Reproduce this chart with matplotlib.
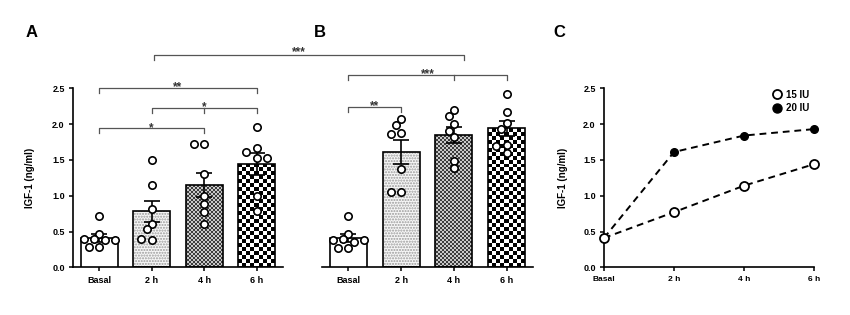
import numpy as np
import matplotlib
matplotlib.use('Agg')
import matplotlib.pyplot as plt
from matplotlib.lines import Line2D

plt.rcParams['font.family'] = ['Liberation Sans', 'DejaVu Sans']
plt.rcParams['font.weight'] = 'bold'

groups = ['Basal', '2 h', '4 h', '6 h']

# panel A (15 IU) - individual values, bar means and SEM
a_points = [
    [0.71, 0.46, 0.39, 0.38, 0.40, 0.28, 0.29, 0.38],
    [1.50, 1.15, 0.82, 0.61, 0.54, 0.38, 0.39],
    [1.72, 1.72, 1.30, 1.00, 0.88, 0.77, 0.60],
    [1.96, 1.66, 1.61, 1.52, 1.52, 1.00, 0.79],
]
a_mean = [0.41, 0.78, 1.15, 1.44]
a_sem = [0.05, 0.15, 0.17, 0.15]

# panel B (20 IU)
b_points = [
    [0.71, 0.47, 0.39, 0.36, 0.38, 0.38, 0.27, 0.27],
    [2.07, 1.99, 1.87, 1.86, 1.37, 1.05, 1.05],
    [2.20, 2.11, 2.00, 1.91, 1.82, 1.49, 1.38],
    [2.42, 2.17, 2.02, 1.93, 1.71, 1.70, 1.60],
]
b_mean = [0.41, 1.61, 1.85, 1.94]
b_sem = [0.05, 0.17, 0.11, 0.11]

# panel C means
c_15 = [0.41, 0.77, 1.14, 1.44]
c_20 = [0.41, 1.61, 1.84, 1.93]

W, H = 850, 315
fig = plt.figure(figsize=(8.5, 3.15), dpi=100)


def px_axes(x0, x1, y_bottom, y_top):
    return fig.add_axes([x0 / W, 1 - y_bottom / H, (x1 - x0) / W, (y_bottom - y_top) / H])


axA = px_axes(73, 283, 267.3, 88.3)
axB = px_axes(322, 533, 267.3, 88.3)
axC = px_axes(604, 814, 267.3, 88.3)


def style(ax, left=True):
    for s in ['top', 'right']:
        ax.spines[s].set_visible(False)
    ax.spines['left'].set_visible(left)
    for s in ['left', 'bottom']:
        ax.spines[s].set_linewidth(1.2)
    ax.tick_params(direction='out', length=3, width=1.1, labelsize=6.5, pad=3)
    if not left:
        ax.tick_params(axis='y', left=False, labelleft=False)
    ax.set_ylim(0, 2.5)
    ax.set_yticks([0, 0.5, 1.0, 1.5, 2.0, 2.5])
    ax.set_yticklabels(['0.0', '0.5', '1.0', '1.5', '2.0', '2.5'])


def swarm(vals, ppx=52.3, ppy=71.6, diam=7.0, step=0.1):
    placed, offs = [], []
    for v in vals:
        for k in [0, -1, 1, -2, 2, -3, 3]:
            dx = k * step
            if all(((dx - px) * ppx) ** 2 + ((v - py) * ppy) ** 2 >= diam ** 2 for px, py in placed):
                break
        placed.append((dx, v))
        offs.append(dx)
    return offs


def checker(ax, bar, cell, c1, c2):
    nx = int(round(210 / cell))
    ny = int(round(179 / cell))
    img = (np.add.outer(np.arange(ny), np.arange(nx)) % 2).astype(float)
    cmap = matplotlib.colors.ListedColormap([c1, c2])
    im = ax.imshow(img, extent=(-0.5, 3.5, 0, 2.5), cmap=cmap, interpolation='nearest',
                   aspect='auto', origin='lower', zorder=2)
    im.set_clip_path(bar)


def bar_panel(ax, means, sems, points):
    x = np.arange(len(groups))
    w = 0.7
    ax.bar(0, means[0], w, color='white', edgecolor='black', lw=1.2, zorder=3)
    ax.bar(1, means[1], w, color='#f7f7f7', edgecolor='#9a9a9a', hatch='......', lw=0, zorder=2)
    ax.bar(1, means[1], w, fill=False, edgecolor='black', lw=1.2, zorder=3)
    b4 = ax.bar(2, means[2], w, fill=False, edgecolor='black', lw=1.2, zorder=3)[0]
    b6 = ax.bar(3, means[3], w, fill=False, edgecolor='black', lw=1.2, zorder=3)[0]
    checker(ax, b4, 2, '#3c3c3c', '#c8c8c8')
    checker(ax, b6, 4, 'black', 'white')
    ax.errorbar(x, means, yerr=sems, fmt='none', ecolor='black', elinewidth=1.2,
                capsize=5.5, capthick=1.2, zorder=4)
    for i, vals in enumerate(points):
        offs = swarm(vals)
        ax.scatter(i + np.array(offs), vals, s=28, facecolor='white', edgecolor='black',
                   lw=1.2, zorder=5, clip_on=False)
    ax.set_xlim(-0.5, 3.5)
    ax.set_ylim(0, 2.5)
    ax.set_xticks(x)
    ax.set_xticklabels(groups)


def bracket(ax, x0, x1, y, label, mid=None, h=0.07):
    kw = dict(color='#555555', lw=0.9, clip_on=False, zorder=6)
    ax.plot([x0, x0, x1, x1], [y - h, y, y, y - h], **kw)
    if mid is not None:
        ax.plot([mid, mid], [y, y - h], **kw)
    ax.text((x0 + x1) / 2, y + 0.01, label, ha='center', va='center', fontsize=8.5,
            color='#333333', clip_on=False)


style(axA)
bar_panel(axA, a_mean, a_sem, a_points)
axA.set_ylabel('IGF-1 (ng/ml)', fontsize=7, fontweight='bold')
axA.yaxis.set_label_coords(-0.18, 0.5)
bracket(axA, 0, 2, 1.94, '*')
bracket(axA, 1, 3, 2.23, '*', mid=2)
bracket(axA, 0, 3, 2.50, '**')

style(axB, left=False)
bar_panel(axB, b_mean, b_sem, b_points)
bracket(axB, 0, 1, 2.24, '**')
bracket(axB, 0, 3, 2.69, '***', mid=2)

# bracket spanning panel A (2 h) and panel B (4 h)
inv = fig.transFigure.inverted()
yb = 2.965
p0 = inv.transform(axA.transData.transform((1.05, yb)))
p1 = inv.transform(axB.transData.transform((2.2, yb)))
q0 = inv.transform(axA.transData.transform((1.05, yb - 0.07)))
q1 = inv.transform(axB.transData.transform((2.2, yb - 0.07)))
fig.add_artist(Line2D([q0[0], p0[0], p1[0], q1[0]], [q0[1], p0[1], p1[1], q1[1]],
                      color='#555555', lw=0.9, transform=fig.transFigure))
fig.text((p0[0] + p1[0]) / 2 - 0.012, p0[1] + 0.008, '***', ha='center', va='center',
         fontsize=8.5, color='#333333')

style(axC)
axC.plot(range(4), c_20, ls=(0, (3.5, 2.5)), color='black', lw=1.4, marker='o', ms=5.5,
         mfc='black', mec='black', clip_on=False, zorder=3)
axC.plot(range(4), c_15, ls=(0, (3.5, 2.5)), color='black', lw=1.4, marker='o', ms=6.5,
         mfc='white', mec='black', mew=1.3, clip_on=False, zorder=4)
axC.set_xlim(0, 3)
axC.set_xticks(range(4))
axC.set_xticklabels(groups, fontsize=6)
axC.set_ylabel('IGF-1 (ng/ml)', fontsize=7, fontweight='bold')
axC.yaxis.set_label_coords(-0.17, 0.5)
handles = [Line2D([], [], ls='none', marker='o', ms=6.5, mfc='white', mec='black', mew=1.3),
           Line2D([], [], ls='none', marker='o', ms=6.5, mfc='black', mec='black')]
axC.legend(handles, ['15 IU', '20 IU'], loc='upper right', bbox_to_anchor=(1.0, 1.02),
           frameon=False, fontsize=7, handletextpad=0.4, labelspacing=0.35, borderpad=0,
           handlelength=1.0)

for ax, lab, xp in [(axA, 'A', 26), (axB, 'B', 314), (axC, 'C', 553)]:
    fig.text(xp / W, 1 - 32.5 / H, lab, fontsize=12, fontweight='bold', ha='left', va='center')

fig.savefig('out.png', dpi=100)
